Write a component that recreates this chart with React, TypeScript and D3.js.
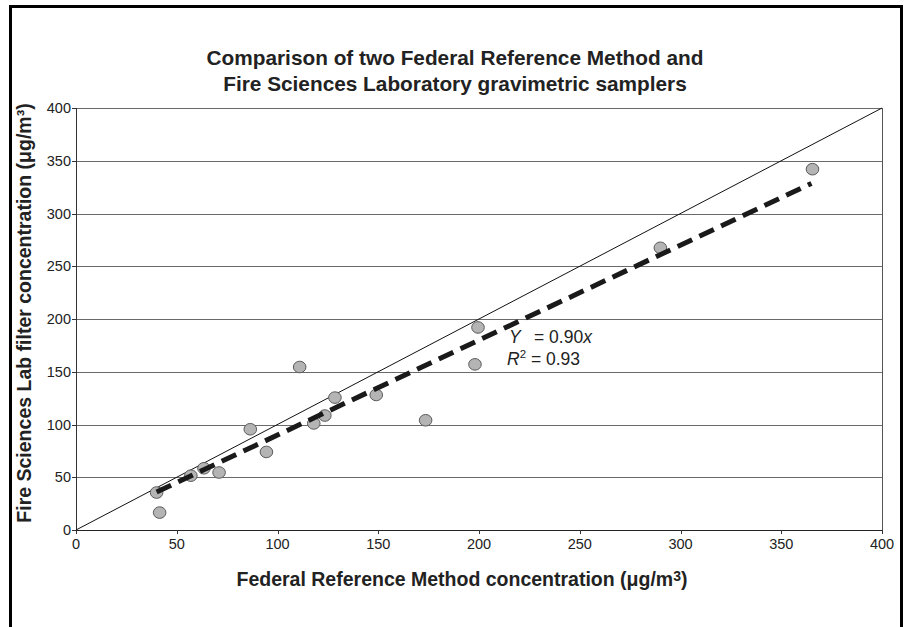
import React from "react";
import * as d3 from "d3";

const frmValues = [40, 41.5, 57, 63.5, 71, 86.5, 94.5, 111, 118, 123.5, 128.5, 149, 173.5, 198, 199.5, 290, 365.5];
const fslValues = [35.5, 16.5, 51.5, 58.5, 54.5, 95.5, 74, 154.5, 101, 108.5, 125.5, 128, 104, 157, 192, 267.5, 342];
const xTicks = [0, 50, 100, 150, 200, 250, 300, 350, 400];
const yTicks = [0, 50, 100, 150, 200, 250, 300, 350, 400];
const slope = 0.9;
const fitRange = [40, 365];
const titleLines = ["Comparison of two Federal Reference Method and", "Fire Sciences Laboratory gravimetric samplers"];

const W = 906;
const H = 627;
const FONT = "'Liberation Sans', Arial, sans-serif";

export default function App() {
  const x = d3.scaleLinear().domain([0, 400]).range([76, 882]);
  const y = d3.scaleLinear().domain([0, 400]).range([530, 108]);
  const line = d3.line<[number, number]>().x((d) => x(d[0])).y((d) => y(d[1]));
  const pts = frmValues.map((v, i) => [v, fslValues[i]] as [number, number]);

  return (
    <svg width={W} height={H} style={{ position: "absolute", left: 0, top: 0, background: "#fff" }} fontFamily={FONT}>
      <rect x={10.5} y={6.5} width={891} height={660} fill="#fff" stroke="#000" strokeWidth={3} />
      {titleLines.map((t, i) => (
        <text key={i} x={455} y={65 + i * 26} textAnchor="middle" fontWeight="bold" fontSize={20.8} fill="#222">
          {t}
        </text>
      ))}
      {/* gridlines */}
      {yTicks.filter((t) => t > 0).map((t) => (
        <line key={t} x1={x(0)} x2={x(400)} y1={Math.round(y(t)) + 0.5} y2={Math.round(y(t)) + 0.5} stroke="#6a6a6a" strokeWidth={1} />
      ))}
      {/* right border */}
      <line x1={Math.round(x(400)) + 0.5} x2={Math.round(x(400)) + 0.5} y1={y(400)} y2={y(0)} stroke="#555" strokeWidth={1} />
      {/* axes */}
      <line x1={x(0) + 0.5} x2={x(0) + 0.5} y1={y(400)} y2={y(0)} stroke="#333" strokeWidth={1} />
      <line x1={x(0)} x2={x(400)} y1={Math.round(y(0)) + 0.5} y2={Math.round(y(0)) + 0.5} stroke="#222" strokeWidth={1.2} />
      {yTicks.map((t) => (
        <g key={t}>
          <line x1={x(0) - 4} x2={x(0)} y1={Math.round(y(t)) + 0.5} y2={Math.round(y(t)) + 0.5} stroke="#333" />
          <text x={x(0) - 5} y={y(t) + 5} textAnchor="end" fontSize={14.5} fill="#222">
            {t}
          </text>
        </g>
      ))}
      {xTicks.map((t) => (
        <g key={t}>
          <line x1={Math.round(x(t)) + 0.5} x2={Math.round(x(t)) + 0.5} y1={y(0)} y2={y(0) + 4} stroke="#333" />
          <text x={x(t)} y={y(0) + 19} textAnchor="middle" fontSize={14.5} fill="#222">
            {t}
          </text>
        </g>
      ))}
      {/* 1:1 line */}
      <path d={line([[0, 0], [400, 400]]) || ""} stroke="#111" strokeWidth={1} fill="none" />
      {/* points */}
      {pts.map((p, i) => (
        <ellipse key={i} cx={x(p[0])} cy={y(p[1])} rx={6.3} ry={5.8} fill="#b4b4b4" stroke="#5a5a5a" strokeWidth={1} />
      ))}
      {/* regression */}
      <path
        d={line([[fitRange[0], fitRange[0] * slope], [fitRange[1], fitRange[1] * slope]]) || ""}
        stroke="#1a1a1a"
        strokeWidth={5}
        strokeDasharray="16 8"
        fill="none"
      />
      {/* annotation */}
      <text y={343} fontSize={17.5} fill="#222">
        <tspan x={509} fontStyle="italic">Y</tspan>
        <tspan x={534}>= 0.90</tspan>
        <tspan fontStyle="italic">x</tspan>
      </text>
      <text y={365} fontSize={17.5} fill="#222">
        <tspan x={507} fontStyle="italic">R</tspan>
        <tspan fontSize={11.5} dy={-7}>2</tspan>
        <tspan dy={7}> = 0.93</tspan>
      </text>
      {/* axis titles */}
      <text x={462} y={586} textAnchor="middle" fontWeight="bold" fontSize={19.5} fill="#222">
        Federal Reference Method concentration (μg/m
        <tspan fontSize={14} dy={-5}>3</tspan>
        <tspan dy={5}>)</tspan>
      </text>
      <text transform={`translate(31,${(y(0) + y(400)) / 2 - 6}) rotate(-90)`} textAnchor="middle" fontWeight="bold" fontSize={19.5} fill="#222">
        Fire Sciences Lab filter concentration (μg/m³)
      </text>
    </svg>
  );
}
